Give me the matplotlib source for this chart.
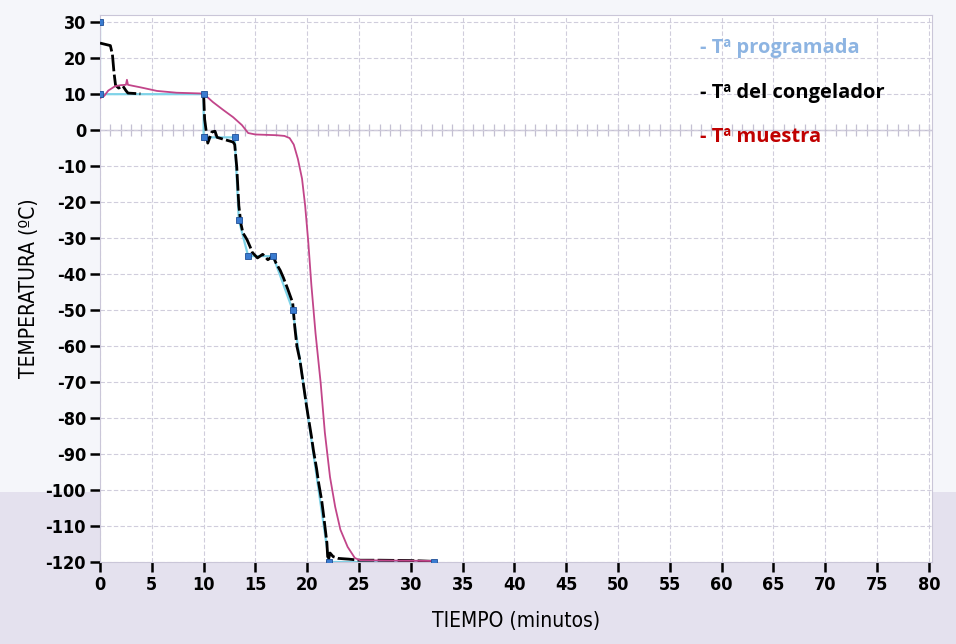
import numpy as np
import matplotlib
matplotlib.use("Agg")
import matplotlib.pyplot as plt
from matplotlib.patches import Rectangle

plt.rcParams['axes.unicode_minus'] = False
narrow = ['DejaVu Sans Condensed', 'Liberation Sans Narrow', 'DejaVu Sans']
nan = np.nan

# Tª programada (setpoints)
prog_t = [0, 0, 10, 10, 13, 13.4, 14.3, 16.7, 18.6, 22.1, 32.2]
prog_y = [30, 10, 10, -2, -2, -25, -35, -35, -50, -120, -120]

# Tª del congelador
frz_t = [0, 1.0, 1.2, 1.35, 1.5, 1.8, 2.2, 2.5, 2.7, 3.9, nan,
         10.0, 10.1, 10.4, 10.8, 11.1, 11.3, 12.0, 12.85, 13.0, 13.2, 13.4,
         13.6, 13.8, 14.0, 14.2, 14.5, 14.7, 15.2, 15.7, 16.2, 16.7, 17.0,
         17.4, 17.7, 18.1, 18.4, 18.6, 18.8, 19.0, 19.3, 19.6, 19.9, 20.1,
         20.4, 20.6, 20.9, 21.1, 21.4, 21.6, 21.9, 22.0, 22.2, 22.5, 23.0,
         24.0, 25.0, 27.0, 30.0, 32.0]
frz_y = [24.2, 23.5, 21, 16, 12.5, 11.7, 12.3, 11.0, 10.3, 10.1, nan,
         10.0, 3, -3.6, -0.5, -0.3, -2, -2.6, -3.3, -4, -10.3, -21,
         -26, -28.6, -29.5, -30.5, -32.5, -34, -35.5, -34.5, -36, -35, -37,
         -39, -41, -44, -46.4, -48, -54.7, -60, -64, -70, -76, -79.7,
         -85, -89, -94, -98, -103, -107.5, -114.7, -120, -117.5, -118.5, -119,
         -119.2, -119.5, -119.5, -119.6, -119.8]

# Tª muestra
smp_t = [0, 0.4, 0.8, 1.45, 2.0, 2.5, 2.6, 2.7, 3.2, 3.9, 5.5, 7.4, 9.7,
         10.2, 10.9, 11.9, 12.85, 13.7, 14.3, 15.0, 16.0, 17.0, 17.8, 18.3,
         18.7, 19.1, 19.5, 19.8, 20.1, 20.4, 20.8, 21.3, 21.7, 22.2, 22.7,
         23.2, 23.9, 24.6, 25.1, 28.0, 32.0]
smp_y = [8.9, 9.5, 11, 12.2, 12.5, 12.6, 14.0, 12.6, 12.3, 11.9, 10.9, 10.4, 10.2,
         9.6, 7.8, 5.6, 3.6, 1.4, -0.8, -1.2, -1.3, -1.4, -1.6, -2.2,
         -4, -8, -13.5, -21, -31, -43, -56.4, -70.3, -84, -96.4, -104.7,
         -111, -115.8, -118.9, -119.5, -119.6, -119.7]

fig = plt.figure(figsize=(9.56, 6.44), dpi=100, facecolor='#f5f6fa')
fig.patches.append(Rectangle((0, 0), 1, 152 / 644, transform=fig.transFigure,
                             facecolor='#e4e1ee', edgecolor='none', zorder=-5))
ax = fig.add_axes([100 / 956, 82 / 644, 832 / 956, 547 / 644])
ax.set_facecolor('white')

ax.set_xlim(0, 80.3)
ax.set_ylim(-120, 32)
ax.set_xticks(np.arange(0, 81, 5))
ax.set_yticks(np.arange(-120, 31, 10))
ax.grid(True, color='#d0cddc', lw=0.8, ls=(0, (4, 2)))
for s in ax.spines.values():
    s.set_color('#cac6d8')
    s.set_linewidth(0.8)
ax.tick_params(axis='both', direction='out', length=7, width=1.8,
               color='black', labelsize=13, pad=3)
for lab in ax.get_xticklabels() + ax.get_yticklabels():
    lab.set_family(narrow)
    lab.set_stretch('condensed')
    lab.set_weight('semibold')

# zero reference line with minute ticks
ax.axhline(0, color='#c4c0d2', lw=1.0, zorder=1)
ax.plot(np.arange(1, 81, 1), np.zeros(80), ls='none', marker='|',
        ms=9, mew=0.9, color='#c4c0d2', zorder=1)

ax.plot(prog_t, prog_y, color='#7fd3e8', lw=1.6, zorder=2)
ax.plot(frz_t, frz_y, color='black', lw=2.0, ls=(0, (6, 1.2)), zorder=3)
ax.plot(smp_t, smp_y, color='#c2458a', lw=1.3, zorder=4)
ax.plot(prog_t, prog_y, ls='none', marker='s', ms=5, mfc='#3a7bd0',
        mec='#1f4f96', mew=0.6, zorder=5)

ax.set_xlabel('TIEMPO (minutos)', family=narrow, stretch='condensed',
              fontsize=15, labelpad=12)
ax.set_ylabel('TEMPERATURA (ºC)', family=narrow, stretch='condensed',
              fontsize=15, labelpad=5)

leg = [('- Tª programada', '#8db4e2', 0.940),
       ('- Tª del congelador', 'black', 0.857),
       ('- Tª muestra', '#c00000', 0.777)]
for txt, col, yy in leg:
    ax.text(0.721, yy, txt, transform=ax.transAxes, color=col, fontsize=14.5,
            fontweight='bold', family=['Open Sans', 'DejaVu Sans'],
            ha='left', va='center', zorder=6)

fig.savefig('out.png', dpi=100, facecolor=fig.get_facecolor())
